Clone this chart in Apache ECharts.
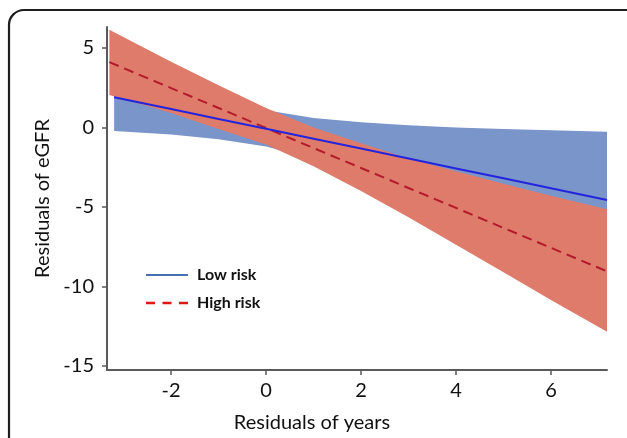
<!DOCTYPE html>
<html>
<head>
<meta charset="utf-8">
<script src="https://cdn.jsdelivr.net/npm/echarts@6/dist/echarts.min.js"></script>
<style>
html,body{margin:0;padding:0;background:#fff;}
#chart{width:627px;height:438px;}
</style>
</head>
<body>
<div id="chart"></div>
<script>
// ---- data ----
var xTicks = [-2, 0, 2, 4, 6];
var yTicks = [-15, -10, -5, 0, 5];

var blueX     = [-3.2, -2, -1, 0, 1, 2, 3, 4, 5, 6, 7.18];
var blueFit   = [1.90, 1.15, 0.53, -0.09, -0.71, -1.33, -1.96, -2.58, -3.20, -3.82, -4.56];
var blueUpper = [4.03, 2.75, 1.81, 1.07, 0.59, 0.32, 0.13, 0.00, -0.10, -0.18, -0.28];
var blueLower = [-0.23, -0.45, -0.74, -1.20, -2.01, -2.98, -4.05, -5.16, -6.30, -7.46, -8.84];

var redX     = [-3.3, -2, -1, 0, 1, 2, 3, 4, 5, 6, 7.18];
var redFit   = [4.10, 2.47, 1.22, -0.04, -1.30, -2.55, -3.81, -5.06, -6.32, -7.57, -9.05];
var redUpper = [6.14, 4.12, 2.65, 1.22, 0.00, -1.00, -1.95, -2.75, -3.55, -4.30, -5.15];
var redLower = [2.03, 0.90, -0.10, -1.08, -2.45, -4.00, -5.65, -7.38, -9.11, -10.85, -12.85];

function zip2(a, b) { return a.map(function (v, i) { return [v, b[i]]; }); }
function zip3(a, b, c) { return a.map(function (v, i) { return [v, b[i], c[i]]; }); }

function bandRender(color) {
  return function (params, api) {
    if (params.dataIndex !== 0) return null;
    var n = params.dataInsideLength;
    var up = [], lo = [];
    for (var i = 0; i < n; i++) {
      up.push(api.coord([api.value(0, i), api.value(2, i)]));
      lo.push(api.coord([api.value(0, i), api.value(1, i)]));
    }
    return {
      type: 'polygon',
      shape: { points: up.concat(lo.reverse()) },
      style: { fill: color, stroke: null }
    };
  };
}

var FONT = 'Lato';
var axisColor = '#5a5a5a';

var chart = echarts.init(document.getElementById('chart'), null, { renderer: 'canvas' });
chart.setOption({
  backgroundColor: '#ffffff',
  animation: false,
  textStyle: { fontFamily: FONT },
  graphic: [{
    type: 'rect',
    shape: { x: 9, y: 10, width: 700, height: 500, r: 15 },
    style: { fill: null, stroke: '#1e1e1e', lineWidth: 2.2 },
    silent: true,
    z: 100
  }],
  grid: { left: 107, right: 20, top: 27, bottom: 66, containLabel: false },
  xAxis: {
    type: 'value',
    min: -3.35, max: 7.18,
    name: 'Residuals of years',
    nameLocation: 'middle',
    nameGap: 43,
    nameTextStyle: { fontFamily: FONT, fontSize: 20, color: '#111', padding: [0, 90, 0, 0] },
    axisLine: { show: true, onZero: false, lineStyle: { color: axisColor, width: 2 } },
    axisTick: { show: true, length: 5, customValues: xTicks, lineStyle: { color: axisColor, width: 1.5 } },
    axisLabel: { customValues: xTicks, margin: 11, fontFamily: FONT, fontSize: 20, color: '#111' },
    splitLine: { show: false }
  },
  yAxis: {
    type: 'value',
    min: -15.25, max: 6.31,
    name: 'Residuals of eGFR',
    nameLocation: 'middle',
    nameGap: 50,
    nameTextStyle: { fontFamily: FONT, fontSize: 20, color: '#111' },
    axisLine: { show: true, onZero: false, lineStyle: { color: axisColor, width: 2 } },
    axisTick: { show: true, length: 5, customValues: yTicks, lineStyle: { color: axisColor, width: 1.5 } },
    axisLabel: { customValues: yTicks, margin: 13, fontFamily: FONT, fontSize: 20, color: '#111' },
    splitLine: { show: false }
  },
  legend: {
    orient: 'vertical',
    left: 141,
    top: 262,
    itemWidth: 42,
    itemHeight: 14,
    itemGap: 12,
    textStyle: { fontFamily: FONT, fontSize: 16, fontWeight: 'bold', color: '#111', padding: [0, 0, 0, 4] },
    data: [
      { name: 'Low risk', icon: 'path://M0,6 L42,6 L42,8.2 L0,8.2 Z', itemStyle: { color: '#4a6fae' } },
      { name: 'High risk', icon: 'path://M0,6 L9,6 L9,8.6 L0,8.6 Z M16.5,6 L25.5,6 L25.5,8.6 L16.5,8.6 Z M33,6 L42,6 L42,8.6 L33,8.6 Z', itemStyle: { color: '#e01515' } }
    ]
  },
  series: [
    {
      name: 'Low risk band', type: 'custom',
      data: zip3(blueX, blueLower, blueUpper),
      encode: { x: 0, y: [1, 2] },
      renderItem: bandRender('#7a95ca'),
      z: 1, silent: true
    },
    {
      name: 'High risk band', type: 'custom',
      data: zip3(redX, redLower, redUpper),
      encode: { x: 0, y: [1, 2] },
      renderItem: bandRender('#df7b6b'),
      z: 2, silent: true
    },
    {
      name: 'Low risk', type: 'line',
      data: zip2(blueX, blueFit),
      symbol: 'none',
      lineStyle: { color: '#2424dc', width: 2 },
      itemStyle: { color: '#4a6fae' },
      z: 4
    },
    {
      name: 'High risk', type: 'line',
      data: zip2(redX, redFit),
      symbol: 'none',
      lineStyle: { color: '#b31a2a', width: 2, type: [10, 6] },
      itemStyle: { color: '#e01515' },
      z: 3
    }
  ]
});
</script>
</body>
</html>
